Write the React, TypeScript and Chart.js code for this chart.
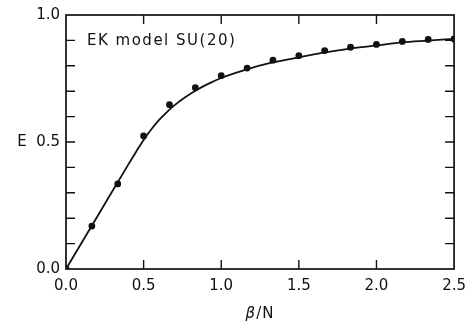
import React, { useEffect, useRef } from "react";
import { Chart, registerables } from "chart.js";

Chart.register(...registerables);

const pointBeta = [0, 0.1667, 0.3333, 0.5, 0.6667, 0.8333, 1.0, 1.1667, 1.3333, 1.5, 1.6667, 1.8333, 2.0, 2.1667, 2.3333, 2.5];
const pointE = [0, 0.169, 0.335, 0.524, 0.647, 0.714, 0.761, 0.791, 0.822, 0.84, 0.86, 0.873, 0.884, 0.896, 0.904, 0.906];

const curveBeta = [0, 0.2, 0.4, 0.45, 0.5, 0.55, 0.6, 0.65, 0.7, 0.77, 0.85, 0.93, 1.0, 1.155, 1.33, 1.5, 1.66, 1.83, 2.0, 2.165, 2.33, 2.5];
const curveE = [0, 0.205, 0.41, 0.46, 0.508, 0.55, 0.587, 0.618, 0.645, 0.677, 0.708, 0.733, 0.752, 0.784, 0.813, 0.833, 0.852, 0.868, 0.88, 0.892, 0.899, 0.906];

const xTickValues = [0, 0.5, 1.0, 1.5, 2.0, 2.5];
const yLabels: Record<string, string> = { "0": "0.0", "0.5": "E  0.5", "1": "1.0" };
const annotation = "EK model SU(20)";
const xTitleGreek = "β";
const xTitleRest = "/N";

const FONT = "'DejaVu Sans', sans-serif";
const INK = "#111";

const framePlugin = {
  id: "frameTicks",
  afterDraw(chart: any) {
    const { ctx, chartArea } = chart;
    const xs = chart.scales.x;
    const ys = chart.scales.y;
    const { left, right, top, bottom } = chartArea;
    ctx.save();
    ctx.strokeStyle = INK;
    ctx.lineWidth = 1.7;
    ctx.strokeRect(left, top, right - left, bottom - top);
    const len = 9;
    ctx.lineWidth = 1.4;
    ctx.beginPath();
    for (let i = 1; i < 10; i++) {
      const y = ys.getPixelForValue(i / 10);
      ctx.moveTo(left, y);
      ctx.lineTo(left + len, y);
      ctx.moveTo(right, y);
      ctx.lineTo(right - len, y);
    }
    for (const v of xTickValues) {
      if (v === 0 || v === 2.5) continue;
      const x = xs.getPixelForValue(v);
      ctx.moveTo(x, bottom);
      ctx.lineTo(x, bottom - len);
      ctx.moveTo(x, top);
      ctx.lineTo(x, top + len);
    }
    ctx.stroke();

    ctx.fillStyle = INK;
    ctx.font = `15px ${FONT}`;
    ctx.textBaseline = "alphabetic";
    ctx.textAlign = "left";
    (ctx as any).letterSpacing = "1.5px";
    ctx.fillText(annotation, left + 21, top + 30);

    // axis title
    (ctx as any).letterSpacing = "1px";
    const cx = (left + right) / 2;
    ctx.font = `italic 15px ${FONT}`;
    const wG = ctx.measureText(xTitleGreek).width;
    ctx.font = `15px ${FONT}`;
    const wR = ctx.measureText(xTitleRest).width;
    const startX = cx - (wG + wR) / 2;
    const baseY = 318;
    ctx.font = `italic 15px ${FONT}`;
    ctx.fillText(xTitleGreek, startX, baseY);
    ctx.font = `15px ${FONT}`;
    ctx.fillText(xTitleRest, startX + wG, baseY);
    ctx.restore();
  },
};

export default function App() {
  const ref = useRef<HTMLCanvasElement | null>(null);
  useEffect(() => {
    const canvas = ref.current;
    if (!canvas) return;
    const points = pointBeta.map((b, i) => ({ x: b, y: pointE[i] }));
    const curve = curveBeta.map((b, i) => ({ x: b, y: curveE[i] }));
    const chart = new Chart(canvas, {
      type: "scatter",
      data: {
        datasets: [
          {
            type: "line",
            data: curve,
            borderColor: INK,
            borderWidth: 1.8,
            pointRadius: 0,
            cubicInterpolationMode: "monotone",
            fill: false,
          } as any,
          {
            data: points,
            backgroundColor: INK,
            borderColor: INK,
            pointRadius: 3.4,
            pointBorderWidth: 0,
            showLine: false,
          },
        ],
      },
      options: {
        responsive: false,
        animation: false,
        layout: { padding: { left: 0, right: 17, top: 14, bottom: 0 } },
        plugins: { legend: { display: false }, tooltip: { enabled: false } },
        scales: {
          x: {
            type: "linear",
            min: 0,
            max: 2.5,
            grid: { display: false, drawTicks: false },
            border: { display: false },
            afterBuildTicks: (scale: any) => {
              scale.ticks = xTickValues.map((v) => ({ value: v }));
            },
            ticks: {
              color: INK,
              font: { family: FONT, size: 15 },
              padding: 8,
              maxRotation: 0,
              callback: (v: any) => Number(v).toFixed(1),
            },
            afterFit: (scale: any) => {
              scale.height = 54;
            },
          },
          y: {
            type: "linear",
            min: 0,
            max: 1,
            grid: { display: false, drawTicks: false },
            border: { display: false },
            ticks: {
              stepSize: 0.5,
              color: INK,
              font: { family: FONT, size: 15 },
              padding: 6,
              callback: (v: any) => yLabels[String(Number(Number(v).toFixed(2)))] ?? "",
            },
            afterFit: (scale: any) => {
              scale.width = 66;
            },
          },
        },
      },
      plugins: [framePlugin],
    } as any);
    return () => chart.destroy();
  }, []);
  return (
    <div style={{ position: "fixed", left: 0, top: 0, width: 474, height: 323, background: "#fff" }}>
      <canvas ref={ref} width={474} height={323} style={{ display: "block" }} />
    </div>
  );
}
